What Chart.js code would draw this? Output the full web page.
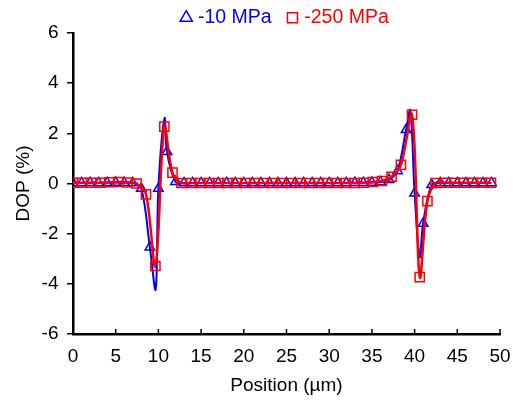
<!DOCTYPE html>
<html>
<head>
<meta charset="utf-8">
<script src="https://cdn.jsdelivr.net/npm/chart.js@4"></script>
<style>body{margin:0;background:#fff}</style>
</head>
<body>
<canvas id="chart" width="513" height="411"></canvas>
<script>
const blueLabel = '-10 MPa';
const redLabel = '-250 MPa';

// -10 MPa markers
const bluePos = [0, 1, 2, 3, 4, 5, 6, 7, 8, 9, 10, 11, 12, 13, 14, 15, 16, 17, 18, 19,
  20, 21, 22, 23, 24, 25, 26, 27, 28, 29, 30, 31, 32, 33, 34, 35, 36, 37, 38, 39,
  40, 41, 42, 43, 44, 45, 46, 47, 48, 49];
const blueDop = [0.02, 0.02, 0.03, 0.02, 0.03, 0.04, 0.03, 0.02, -0.2, -2.54, -0.2, 1.27, 0.07, 0.02, 0.02, 0.02, 0.02, 0.02, 0.02, 0.02,
  0.02, 0.02, 0.02, 0.02, 0.02, 0.02, 0.02, 0.02, 0.02, 0.02, 0.02, 0.02, 0.02, 0.03, 0.03, 0.04, 0.06, 0.15, 0.5, 2.14,
  -0.39, -1.59, -0.05, 0.02, 0.02, 0.02, 0.02, 0.02, 0.02, 0.02];
// where the smoothed -10 MPa line turns between markers
const bluePeakPos = [9.68, 10.72, 39.5, 40.6];
const bluePeakDop = [-4.22, 2.6, 2.92, -2.93];

// -250 MPa markers
const redPos = [0, 1.06, 2.13, 3.19, 4.26, 5.32, 6.38, 7.45, 8.55, 9.65, 10.7, 11.65, 12.7, 13.83, 14.9, 15.96,
  17.02, 18.09, 19.15, 20.22, 21.28, 22.34, 23.41, 24.47, 25.54, 26.6, 27.66, 28.73, 29.79, 30.86, 31.92,
  32.98, 34.05, 35.11, 36.18, 37.3, 38.4, 39.7, 40.6, 41.5, 42.45, 43.62, 44.69, 45.75, 46.82, 47.88, 48.94];
const redDop = [0.03, 0.03, 0.03, 0.03, 0.05, 0.06, 0.04, 0.0, -0.43, -3.29, 2.27, 0.43, 0.02, 0.02, 0.02, 0.02,
  0.02, 0.02, 0.02, 0.02, 0.02, 0.02, 0.02, 0.02, 0.02, 0.02, 0.02, 0.02, 0.02, 0.02, 0.02,
  0.02, 0.03, 0.06, 0.1, 0.27, 0.74, 2.74, -3.73, -0.7, 0.02, 0.03, 0.03, 0.03, 0.03, 0.03, 0.03];

const font = { family: 'Liberation Sans, Arial, sans-serif', size: 19 };

function points(xs, ys) {
    return xs.map((x, i) => ({ x: x, y: ys[i] }));
}

let blueCurve = points(bluePos, blueDop).concat(points(bluePeakPos, bluePeakDop));
blueCurve.sort((a, b) => a.x - b.x);

// x axis ticks point into the plot
const innerTicks = {
    id: 'innerTicks',
    afterDraw(chart) {
        const scale = chart.scales.x;
        const ctx = chart.ctx;
        ctx.save();
        ctx.strokeStyle = '#000';
        ctx.lineWidth = 1.5;
        scale.ticks.forEach((t) => {
            const px = scale.getPixelForValue(t.value);
            ctx.beginPath();
            ctx.moveTo(px, scale.top);
            ctx.lineTo(px, scale.top - 5);
            ctx.stroke();
        });
        ctx.restore();
    }
};

// keep the legend band short
const legendBand = {
    id: 'legendBand',
    beforeLayout(chart) {
        const lg = chart.legend;
        if (lg && !lg.bandFixed) {
            const fit = lg.fit.bind(lg);
            lg.fit = function () { fit(); this.height = 33; };
            lg.bandFixed = true;
        }
    }
};

new Chart(document.getElementById('chart'), {
    type: 'line',
    data: {
        datasets: [{
            label: blueLabel,
            data: blueCurve,
            borderColor: '#0000ff',
            borderWidth: 2,
            pointRadius: 0,
            tension: 0.35,
            order: 3
        }, {
            label: blueLabel,
            data: points(bluePos, blueDop),
            showLine: false,
            borderColor: '#0000ff',
            backgroundColor: 'transparent',
            pointStyle: 'triangle',
            pointRadius: 5.5,
            pointBorderWidth: 1.5,
            order: 2
        }, {
            label: redLabel,
            data: points(redPos, redDop),
            borderColor: '#ff0000',
            borderWidth: 2.5,
            pointRadius: 0,
            tension: 0.35,
            order: 1
        }, {
            label: redLabel,
            data: points(redPos, redDop),
            showLine: false,
            borderColor: '#ff0000',
            backgroundColor: 'transparent',
            pointStyle: 'rect',
            pointRadius: 6.5,
            pointBorderWidth: 1.5,
            order: 0
        }]
    },
    options: {
        responsive: false,
        animation: false,
        layout: { padding: 0 },
        plugins: {
            tooltip: { enabled: false },
            legend: {
                position: 'top',
                fullSize: false,
                labels: {
                    usePointStyle: true,
                    boxWidth: 4,
                    boxHeight: 10,
                    padding: 8,
                    font: { family: font.family, size: 19.5 },
                    filter: (item, data) => data.datasets[item.datasetIndex].showLine === false,
                    sort: (a, b) => a.datasetIndex - b.datasetIndex,
                    generateLabels(chart) {
                        const items = Chart.defaults.plugins.legend.labels.generateLabels(chart);
                        items.forEach((it) => {
                            it.fontColor = chart.data.datasets[it.datasetIndex].borderColor;
                            if (it.text === blueLabel) it.text += '  ';
                        });
                        return items;
                    }
                }
            }
        },
        scales: {
            x: {
                type: 'linear',
                min: 0,
                max: 50,
                afterFit: (s) => { s.height = 77; s.paddingLeft = 0; s.paddingRight = 13; },
                ticks: { stepSize: 5, color: '#000', font: font, padding: 11 },
                grid: { drawOnChartArea: false, drawTicks: false },
                border: { color: '#000', width: 2.5 },
                title: { display: true, text: 'Position (µm)', color: '#000', font: font, padding: { top: 0, bottom: 13.5 } }
            },
            y: {
                min: -6,
                max: 6,
                afterFit: (s) => { s.width = 73; },
                ticks: { stepSize: 2, color: '#000', font: font, padding: 8.5 },
                grid: { drawOnChartArea: false, tickLength: 6, color: '#000', lineWidth: 1.5 },
                border: { color: '#000', width: 2.5 },
                title: { display: true, text: 'DOP (%)', color: '#000', font: font, padding: { top: 12, bottom: 0 } }
            }
        }
    },
    plugins: [innerTicks, legendBand]
});
</script>
</body>
</html>
